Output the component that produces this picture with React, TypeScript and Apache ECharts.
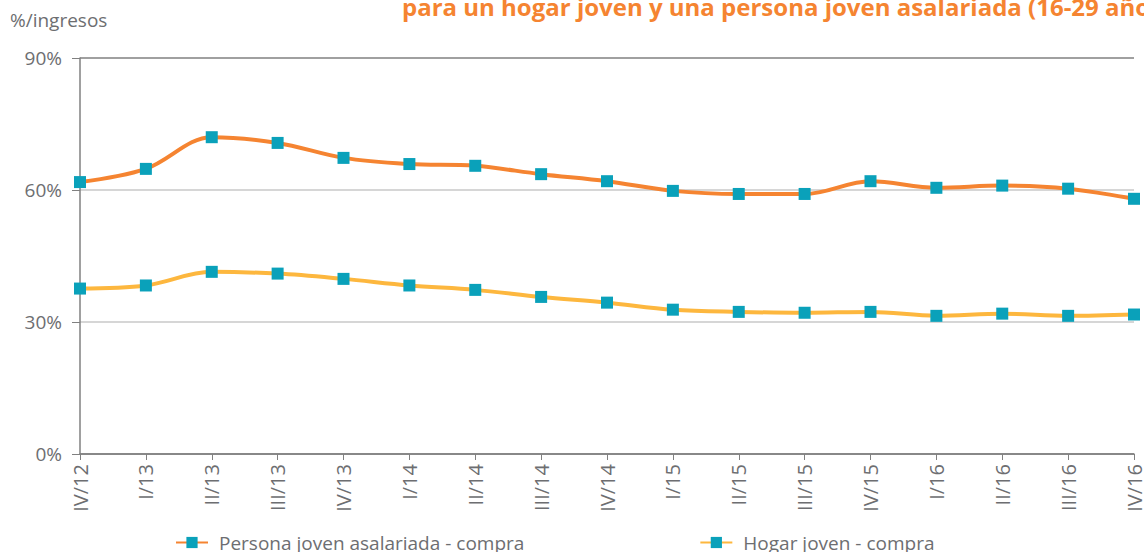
import React, { useEffect, useRef } from "react";
import * as echarts from "echarts";

const categories = [
  "IV/12", "I/13", "II/13", "III/13", "IV/13", "I/14", "II/14", "III/14", "IV/14",
  "I/15", "II/15", "III/15", "IV/15", "I/16", "II/16", "III/16", "IV/16",
];
const personaJoven = [61.8, 64.8, 72.0, 70.7, 67.3, 65.9, 65.5, 63.6, 62.0, 59.8, 59.1, 59.1, 62.0, 60.5, 61.0, 60.3, 58.0];
const hogarJoven = [37.6, 38.3, 41.4, 41.0, 39.8, 38.3, 37.3, 35.7, 34.4, 32.8, 32.3, 32.1, 32.3, 31.4, 31.9, 31.4, 31.7];
const seriesNames = ["Persona joven asalariada - compra", "Hogar joven - compra"];
const titleText = "para un hogar joven y una persona joven asalariada (16-29 años)";
const yAxisName = "%/ingresos";

const ORANGE = "#F58431";
const YELLOW = "#FDB73E";
const TEAL = "#0AA1BA";
const GRAY = "#6D6E71";
const FONT = "Open Sans";

export default function App() {
  const ref = useRef<HTMLDivElement>(null);
  useEffect(() => {
    if (!ref.current) return;
    const chart = echarts.init(ref.current, undefined, { renderer: "svg" });
    chart.setOption({
      animation: false,
      textStyle: { fontFamily: FONT },
      grid: { left: 80, right: 1, top: 58, bottom: 98, containLabel: false },
      graphic: [
        {
          type: "text",
          left: 402,
          top: -6,
          style: {
            text: titleText,
            fill: ORANGE,
            font: `bold 24px "${FONT}"`,
          },
        },
        {
          type: "text",
          left: 10,
          top: 10,
          style: { text: yAxisName, fill: GRAY, font: `19px "${FONT}"` },
        },
      ],
      legend: {
        left: 170,
        top: 528,
        itemGap: 175,
        itemWidth: 32,
        itemHeight: 14,
        textStyle: { color: GRAY, fontSize: 19, fontFamily: FONT, padding: [0, 0, 0, 6] },
        data: seriesNames,
      },
      xAxis: {
        type: "category",
        data: categories,
        boundaryGap: false,
        axisLine: { lineStyle: { color: "#808080", width: 1.5 } },
        axisTick: { show: true, length: 6, alignWithLabel: true, lineStyle: { color: "#808080" } },
        axisLabel: { rotate: 90, color: GRAY, fontSize: 20, margin: 10, interval: 0, fontFamily: FONT },
      },
      yAxis: {
        type: "value",
        min: 0,
        max: 90,
        interval: 30,
        axisLine: { show: true, lineStyle: { color: "#808080", width: 1.5 } },
        axisTick: { show: true, length: 8, lineStyle: { color: "#808080" } },
        axisLabel: { formatter: "{value}%", color: GRAY, fontSize: 19, margin: 18, fontFamily: FONT },
        splitLine: {
          show: true,
          lineStyle: { color: ["#808080", "#C8C8C8", "#C8C8C8", "#808080"], width: 1.5 },
        },
      },
      series: [
        {
          name: seriesNames[0],
          type: "line",
          data: personaJoven,
          smooth: 0.35,
          symbol: "rect",
          symbolSize: 12,
          lineStyle: { color: ORANGE, width: 4 },
          itemStyle: { color: TEAL },
          z: 3,
        },
        {
          name: seriesNames[1],
          type: "line",
          data: hogarJoven,
          smooth: 0.35,
          symbol: "rect",
          symbolSize: 12,
          lineStyle: { color: YELLOW, width: 4 },
          itemStyle: { color: TEAL },
          z: 2,
        },
      ],
    });
    return () => chart.dispose();
  }, []);
  return <div ref={ref} style={{ width: 1144, height: 552, position: "absolute", left: 0, top: 0 }} />;
}
